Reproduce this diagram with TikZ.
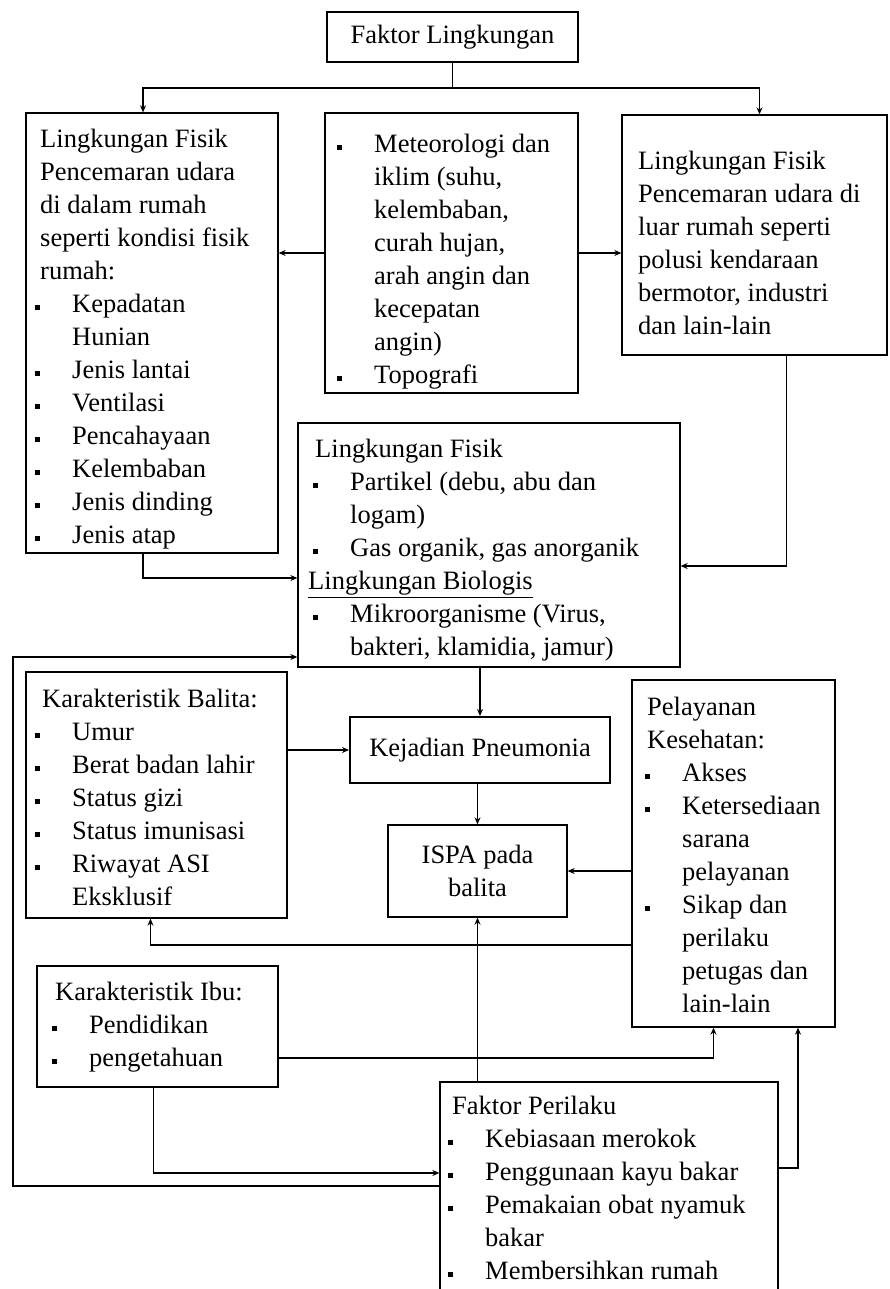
\documentclass[tikz,border=0pt]{standalone}
\usepackage{fontspec}
\setmainfont{Liberation Serif}
\usetikzlibrary{arrows.meta,calc}
\newcommand\bul{\makebox[37pt][l]{\rule[3pt]{5pt}{5pt}}}
\newcommand\ind{\hspace*{37pt}}
\begin{document}
\begin{tikzpicture}[x=1pt,y=-1pt,
  font=\fontsize{26.5}{33}\selectfont,
  box/.style={draw,line width=1.3pt,inner sep=0pt},
  txt/.style={anchor=north west,inner sep=0pt,align=left},
  arr/.style={line width=1.4pt,-{Stealth[length=7pt,width=6pt]}}]
\useasboundingbox (0,0) rectangle (889,1289);
\clip (0,0) rectangle (889,1289);
\fill[white] (0,0) rectangle (889,1289);

% boxes
\node[box,minimum width=251pt,minimum height=50pt] (FL) at (452.5,37) {Faktor Lingkungan};
\node[box,minimum width=252pt,minimum height=440pt] (LB) at (152,333) {};
\node[box,minimum width=253pt,minimum height=280pt] (MT) at (451.5,253) {};
\node[box,minimum width=265pt,minimum height=240pt] (RB) at (754.5,235) {};
\node[box,minimum width=382pt,minimum height=244pt] (MB) at (489,545) {};
\node[box,minimum width=261pt,minimum height=246pt] (KB) at (156.5,795) {};
\node[box,line width=2pt,minimum width=260pt,minimum height=66pt] (KP) at (480,750) {Kejadian Pneumonia};
\node[box,align=center,minimum width=179pt,minimum height=92pt] (IS) at (477.5,871) {ISPA pada\\balita};
\node[box,minimum width=203pt,minimum height=347pt] (PK) at (733.5,853.5) {};
\node[box,minimum width=241pt,minimum height=121pt] (IB) at (157.5,1026.5) {};
\node[box,minimum width=338pt,minimum height=228pt] (FP) at (609,1196) {};

% texts
\node[txt] (tLB) at (35,129) {\hspace*{5pt}Lingkungan Fisik\\
\hspace*{5pt}Pencemaran udara\\
\hspace*{5pt}di dalam rumah\\
\hspace*{5pt}seperti kondisi fisik\\
\hspace*{5pt}rumah:\\
\bul Kepadatan\\
\ind Hunian\\
\bul Jenis lantai\\
\bul Ventilasi\\
\bul Pencahayaan\\
\bul Kelembaban\\
\bul Jenis dinding\\
\bul Jenis atap};

\node[txt] (tMT) at (337,134) {\bul Meteorologi dan\\
\ind iklim (suhu,\\
\ind kelembaban,\\
\ind curah hujan,\\
\ind arah angin dan\\
\ind kecepatan\\
\ind angin)\\
\bul Topografi};

\node[txt] (tRB) at (638,151) {Lingkungan Fisik\\
Pencemaran udara di\\
luar rumah seperti\\
polusi kendaraan\\
bermotor, industri\\
dan lain-lain};

\node[txt] (tMB) at (308,439) {\hspace*{7pt}Lingkungan Fisik\\
\hspace*{5pt}\bul Partikel (debu, abu dan\\
\hspace*{42pt}logam)\\
\hspace*{5pt}\bul Gas organik, gas anorganik\\
\underline{Lingkungan Biologis}\\
\hspace*{5pt}\bul Mikroorganisme (Virus,\\
\hspace*{42pt}bakteri, klamidia, jamur)};

\node[txt] (tKB) at (35,689) {\hspace*{7pt}Karakteristik Balita:\\
\bul Umur\\
\bul Berat badan lahir\\
\bul Status gizi\\
\bul Status imunisasi\\
\bul Riwayat ASI\\
\ind Eksklusif};

\node[txt] (tPK) at (645,697) {\hspace*{2pt}Pelayanan\\
\hspace*{2pt}Kesehatan:\\
\bul Akses\\
\bul Ketersediaan\\
\ind sarana\\
\ind pelayanan\\
\bul Sikap dan\\
\ind perilaku\\
\ind petugas dan\\
\ind lain-lain};

\node[txt] (tIB) at (52,982) {\hspace*{3pt}Karakteristik Ibu:\\
\bul Pendidikan\\
\bul pengetahuan};

\node[txt] (tFP) at (448,1096) {\hspace*{4pt}Faktor Perilaku\\
\bul Kebiasaan merokok\\
\bul Penggunaan kayu bakar\\
\bul Pemakaian obat nyamuk\\
\ind bakar\\
\bul Membersihkan rumah};

% helper coordinates
\coordinate (yTop) at (0,88);
\coordinate (yRB) at (0,566);
\coordinate (yLB) at (0,578);
\coordinate (rail) at (13,0);
\coordinate (yFPa) at (0,1186);
\coordinate (yMBb) at (0,657);
\coordinate (yPK) at (0,945);
\coordinate (yIB) at (0,1058);
\coordinate (yIB2) at (0,1173);
\coordinate (yFP) at (0,1168);

% connectors
\draw[arr] (FL.south) -- (FL.south |- yTop) -| ($(LB.north)+(-9,0)$);
\draw[arr] (FL.south |- yTop) -| ($(RB.north)+(5,0)$);
\draw[arr] (MT.west) -- (MT.west -| LB.east);
\draw[arr] (MT.east) -- (MT.east -| RB.west);
\draw[arr] ($(RB.south)+(32,0)$) |- (MB.east |- yRB);
\draw[arr] ($(LB.south)+(-9,0)$) |- (MB.west |- yLB);
\draw[arr] (FP.west |- yFPa) -| (rail |- yMBb) -- (MB.west |- yMBb);
\draw[arr] (KP.north |- MB.south) -- (KP.north);
\draw[arr] (KP.west -| KB.east) -- (KP.west);
\draw[arr] (IS.north |- KP.south) -- (IS.north);
\draw[arr] (IS.east -| PK.west) -- (IS.east);
\draw[arr] (PK.west |- yPK) -| ($(KB.south)+(-6,0)$);
\draw[arr] (IS.south |- FP.north) -- (IS.south);
\draw[arr] (IB.east |- yIB) -| ($(PK.south)+(-20,0)$);
\draw[arr] ($(IB.south)+(-4,0)$) |- (FP.west |- yIB2);
\draw[arr] (FP.east |- yFP) -| ($(PK.south)+(64.5,0)$);
\end{tikzpicture}
\end{document}
